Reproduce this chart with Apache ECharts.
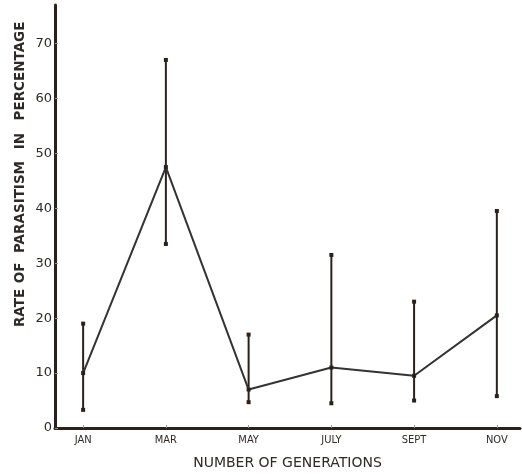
<!DOCTYPE html>
<html>
<head>
<meta charset="utf-8">
<script src="https://cdn.jsdelivr.net/npm/echarts@6/dist/echarts.min.js"></script>
<style>html,body{margin:0;padding:0;background:#fff;}#c{width:522px;height:475px;}</style>
</head>
<body>
<div id="c"></div>
<script>
const categories = ['JAN', 'MAR', 'MAY', 'JULY', 'SEPT', 'NOV'];
const meanValues = [10, 47.5, 7, 11, 9.5, 20.5];
const lowValues = [3.3, 33.5, 4.7, 4.5, 5, 5.8];
const highValues = [19, 67, 17, 31.5, 23, 39.5];
const yTicks = [0, 10, 20, 30, 40, 50, 60, 70];
const yTitleWords = ['RATE', 'OF', 'PARASITISM', 'IN', 'PERCENTAGE'];
const yTitleCenters = [308, 273, 207, 141, 71];

const chart = echarts.init(document.getElementById('c'));
const idx = categories.map((c, i) => i);
const axisColor = '#2b211c';
const textColor = '#2f2a27';

chart.setOption({
  animation: false,
  backgroundColor: '#fff',
  grid: { left: 55, right: 2, top: 5, bottom: 47 },
  xAxis: {
    type: 'value', min: -0.34, max: 5.28,
    name: 'NUMBER OF GENERATIONS', nameLocation: 'middle', nameGap: 28,
    nameTextStyle: { color: textColor, fontSize: 14, fontFamily: 'DejaVu Sans' },
    splitLine: { show: false },
    axisLine: { onZero: false, lineStyle: { color: axisColor, width: 3 } },
    axisTick: { show: true, inside: true, length: 3, customValues: idx, lineStyle: { color: '#999', width: 1 } },
    axisLabel: { customValues: idx, formatter: v => categories[Math.round(v)], color: textColor, fontSize: 11, fontFamily: 'DejaVu Sans Condensed', margin: 7 }
  },
  yAxis: {
    type: 'value', min: 0, max: 77,
    splitLine: { show: false },
    axisLine: { show: true, onZero: false, lineStyle: { color: axisColor, width: 3 } },
    axisTick: { show: true, inside: true, length: 3, customValues: yTicks, lineStyle: { color: '#999', width: 1 } },
    axisLabel: { customValues: yTicks, color: textColor, fontSize: 13, fontFamily: 'DejaVu Sans', margin: 3 }
  },
  graphic: yTitleWords.map((w, i) => ({
    type: 'text', x: 13, y: yTitleCenters[i], rotation: Math.PI / 2,
    style: { text: w, fill: textColor, font: 'bold 13.5px "DejaVu Sans"', textAlign: 'center', textVerticalAlign: 'top' }
  })),
  series: [
    {
      type: 'custom',
      data: idx.map(i => [i, lowValues[i], highValues[i]]),
      renderItem: function (params, api) {
        const lo = api.coord([api.value(0), api.value(1)]);
        const hi = api.coord([api.value(0), api.value(2)]);
        return {
          type: 'group',
          children: [
            { type: 'line', shape: { x1: hi[0], y1: hi[1], x2: lo[0], y2: lo[1] }, style: { stroke: axisColor, lineWidth: 2 } },
            { type: 'rect', shape: { x: hi[0] - 2, y: hi[1] - 2, width: 4, height: 4 }, style: { fill: axisColor } },
            { type: 'rect', shape: { x: lo[0] - 2, y: lo[1] - 2, width: 4, height: 4 }, style: { fill: axisColor } }
          ]
        };
      },
      z: 3
    },
    {
      type: 'line',
      data: idx.map(i => [i, meanValues[i]]),
      symbol: 'rect', symbolSize: 4,
      lineStyle: { color: '#333', width: 2 },
      itemStyle: { color: '#2b211c' },
      z: 4
    }
  ]
});
</script>
</body>
</html>
